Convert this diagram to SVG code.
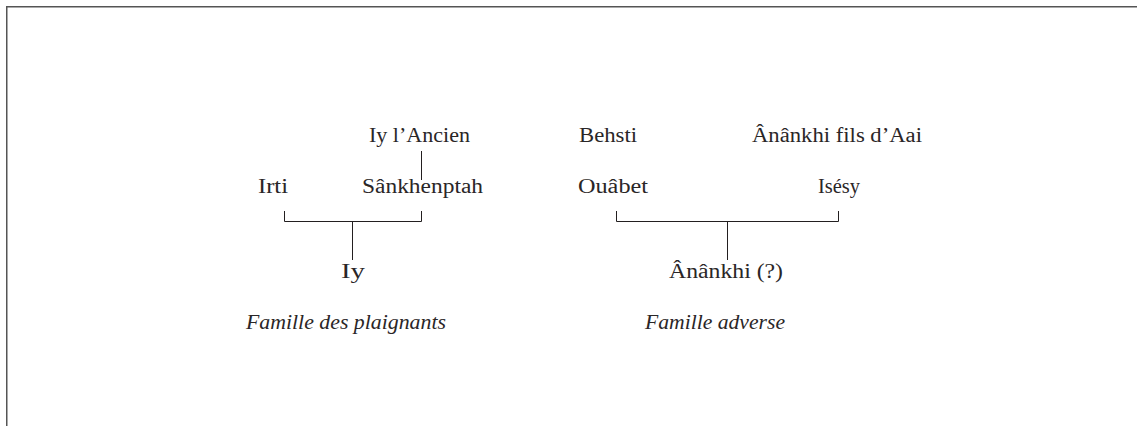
<svg xmlns="http://www.w3.org/2000/svg" width="1137" height="426" viewBox="0 0 1137 426">
<style>
.t{font-family:"Liberation Serif","Times New Roman",serif;font-size:20px;fill:#2a2627}
.i{font-style:italic}
.c{stroke:#231f20;stroke-width:1;fill:none}
.f{stroke:#555;stroke-width:1.5;fill:none}
</style>
<rect width="1137" height="426" fill="#fff"/>
<path class="f" d="M6.75 430 V6.75 H1140"/>
<g id="connectors">
<path class="c" d="M421.5 151 V180"/>
<path class="c" d="M284.5 211 V221.5 H421.5 V211"/>
<path class="c" d="M352.5 221.5 V260"/>
<path class="c" d="M616.5 211 V221.5 H838.5 V211"/>
<path class="c" d="M727.5 221.5 V260"/>
</g>
<g id="iy-ancien"><text class="t" x="369" y="142" textLength="101" lengthAdjust="spacingAndGlyphs">Iy l’Ancien</text></g>
<g id="irti"><text class="t" x="258" y="193" textLength="30" lengthAdjust="spacingAndGlyphs">Irti</text></g>
<g id="sankhenptah"><text class="t" x="362" y="193" textLength="121" lengthAdjust="spacingAndGlyphs">Sânkhenptah</text></g>
<g id="iy"><text class="t" x="341" y="278" textLength="24" lengthAdjust="spacingAndGlyphs">Iy</text></g>
<g id="behsti"><text class="t" x="579" y="142" textLength="58" lengthAdjust="spacingAndGlyphs">Behsti</text></g>
<g id="ananckhi-aai"><text class="t" x="752" y="142" textLength="170" lengthAdjust="spacingAndGlyphs">Ânânkhi fils d’Aai</text></g>
<g id="ouabet"><text class="t" x="578" y="193" textLength="70" lengthAdjust="spacingAndGlyphs">Ouâbet</text></g>
<g id="isesy"><text class="t" x="818" y="193" textLength="42" lengthAdjust="spacingAndGlyphs">Isésy</text></g>
<g id="anankhi"><text class="t" x="669" y="278" textLength="114" lengthAdjust="spacingAndGlyphs">Ânânkhi (?)</text></g>
<g id="label-plaignants"><text class="t i" x="246" y="329" textLength="200" lengthAdjust="spacingAndGlyphs">Famille des plaignants</text></g>
<g id="label-adverse"><text class="t i" x="645" y="329" textLength="140" lengthAdjust="spacingAndGlyphs">Famille adverse</text></g>
</svg>
